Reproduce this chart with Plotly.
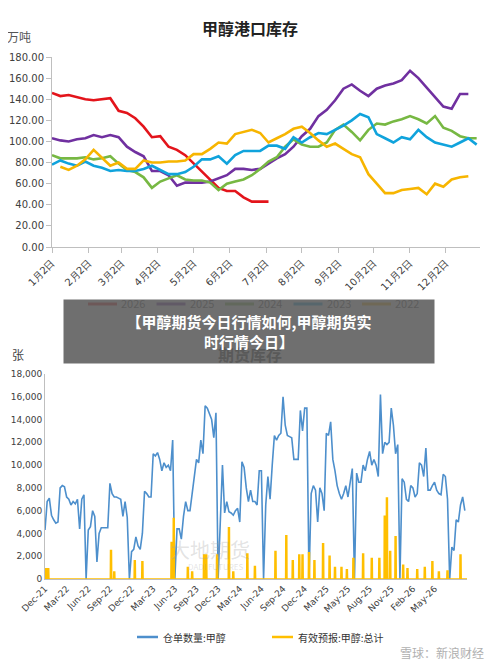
import plotly.graph_objects as go

# ---- top chart: 甲醇港口库存 (weekly, x = week index from 1月2日) ----
month_ticks = [0, 4.4, 8.4, 12.7, 17, 21.3, 25.7, 30, 34.4, 38.6, 42.9, 47.3]
month_labels = ["1月2日", "2月2日", "3月2日", "4月2日", "5月2日", "6月2日", "7月2日",
                "8月2日", "9月2日", "10月2日", "11月2日", "12月2日"]

y2026 = [146, 143, 144, 142, 140, 139, 140, 141, 129, 127, 122, 114, 104, 105, 95, 92,
         87, 79, 72, 63, 56, 53, 53, 47, 43, 43, 43]
y2025 = [103, 101, 100, 102, 103, 106, 104, 106, 104, 95, 90, 86, 72, 72, 68, 58, 61, 61,
         61, 62, 65, 68, 74, 74, 73, 74, 79, 84, 88, 95, 105, 112, 124, 130, 139, 150, 154,
         148, 143, 150, 153, 155, 158, 167, 160, 151, 142, 133, 131, 145, 145]
y2024 = [87, 84, 84, 84, 85, 83, 84, 86, 79, 73, 71, 66, 56, 62, 65, 68, 64, 63, 63, 61,
         54, 60, 62, 64, 68, 74, 81, 85, 95, 102, 97, 95, 95, 99, 111, 116, 109, 101, 111,
         117, 116, 119, 121, 124, 121, 117, 124, 113, 110, 105, 103, 103]
y2023 = [78, 82, 79, 77, 81, 77, 75, 72, 73, 72, 72, 74, 77, 73, 69, 69, 71, 76, 83, 83,
         86, 79, 87, 91, 91, 91, 96, 96, 93, 104, 99, 104, 108, 107, 111, 115, 120, 126,
         123, 107, 103, 99, 104, 102, 111, 104, 99, 97, 95, 99, 103, 97]
y2022 = [76, 73, 77, 83, 92, 84, 77, 80, 74, 74, 82, 80, 80, 81, 81, 82, 88, 88, 93, 99,
         98, 107, 109, 111, 108, 99, 103, 107, 112, 114, 108, 101, 95, 98, 93, 88, 85, 69,
         60, 51, 51, 54, 55, 56, 50, 60, 57, 64, 66, 67]

# ---- bottom chart: 期货库存 (x in tick-interval units, 10 pts per interval) ----
tick_labels_b = ["Dec-21", "Mar-22", "Jun-22", "Sep-22", "Dec-22", "Mar-23", "Jun-23",
                 "Sep-23", "Dec-23", "Mar-24", "Jun-24", "Sep-24", "Dec-24", "Mar-25",
                 "May-25", "Aug-25", "Nov-25", "Feb-26", "May-26"]
warrant = [
    4300, 6800, 7100, 5600, 5200, 4900, 5000, 8000, 8200, 8100,
    7200, 7000, 6500, 6800, 6600, 7000, 4400, 7000, 7400, 0,
    4300, 4600, 6000, 5500, 1500, 4000, 4500, 4500, 4500, 4500,
    8400, 7500, 7200, 7200, 7100, 7000, 5500, 6800, 5400, 0,
    2400, 2600, 3700, 2900, 2600, 4000, 7700, 7500, 7200, 7200,
    11000, 10800, 11100, 10500, 9500, 10200, 9800, 10000, 9500, 12200,
    0, 4400, 4400, 3500, 5500, 6800, 6000, 6000, 7500, 9000,
    10500, 10200, 12200, 11000, 15200, 15000, 14500, 14000, 12400, 14600,
    0, 5500, 10000, 5800, 6800, 5900, 5800, 5600, 6000, 6200,
    5000, 10300, 9800, 8000, 6800, 7800, 6800, 6800, 6500, 9500,
    9500, 0, 6500, 9000, 7000, 10000, 12600, 12200, 12600, 12800,
    16000, 13500, 12600, 12500, 12400, 10500, 10500, 10500, 14800, 13000,
    15000, 15000, 0, 7500, 8200, 7800, 5000, 8000, 7500, 6000,
    12800, 12600, 13800, 10500, 9500, 8200, 7500, 7000, 7500, 8200,
    7200, 8500, 9700, 0, 9300, 8500, 8500, 10000, 9500, 10500,
    11200, 10000, 10500, 10000, 9000, 16200, 11000, 12000, 11800, 12000,
    15000, 13500, 11000, 11800, 0, 8800, 8500, 7000, 6800, 8200,
    8000, 7200, 7500, 10200, 10000, 9000, 11500, 7800, 7800, 8200,
    8500, 7800, 7500, 7400, 9200, 9000, 7000, 0, 2800, 2500,
    5200, 5000, 6500, 7200, 6000,
]
# 有效预报 spikes: position (tick units) and height
spike_x = [0.05, 0.15, 3.05, 3.2, 4.15, 4.5, 5.85, 5.95, 6.6, 6.8, 7.35, 7.45, 7.95, 8.5,
           8.7, 9.35, 9.7, 10.65, 11.15, 11.45, 11.75, 11.9, 12.2, 12.45, 12.85, 13.15,
           13.4, 13.7, 13.95, 14.25, 14.7, 15.1, 15.45, 15.7, 15.8, 15.95, 16.2, 16.55,
           16.75, 17.2, 17.55, 17.9, 18.2, 18.6, 19.2]
spike_y = [900, 900, 2500, 600, 1600, 1500, 3200, 5300, 1000, 600, 2100, 2100, 2100, 4500,
           600, 2200, 1100, 2400, 3800, 1600, 2100, 2100, 2300, 1600, 3100, 2000, 1000,
           1000, 800, 1800, 2200, 1800, 1800, 5500, 7100, 2400, 3700, 1200, 900, 800, 1000,
           1500, 600, 700, 2100]

# the page body adds an 8px margin, so positions are shifted back by 8px
def px_x(p):
    return (p - 8) / 500

def px_y(p):
    return 1 - (p - 8) / 664

fig = go.Figure()

top_series = [("2026", y2026, 0, "#e3141b"), ("2025", y2025, 0, "#7030a0"),
              ("2024", y2024, 0, "#77b843"), ("2023", y2023, 0, "#10a3dc"),
              ("2022", y2022, 1, "#f7b500")]
for name, ys, start, color in top_series:
    fig.add_trace(go.Scatter(x=list(range(start, start + len(ys))), y=ys, mode="lines",
                             line=dict(color=color, width=2.6), name=name,
                             xaxis="x", yaxis="y", showlegend=False))

fig.add_trace(go.Scatter(x=[i / 10 for i in range(len(warrant))], y=warrant, mode="lines",
                         line=dict(color="#4d8fcc", width=1.6), xaxis="x2", yaxis="y2",
                         showlegend=False))
fx, fy = [0], [0]
for sx, sy in zip(spike_x, spike_y):
    fx += [sx - 0.03, sx - 0.02, sx + 0.02, sx + 0.03]
    fy += [0, sy, sy, 0]
fx.append(19.5)
fy.append(0)
fig.add_trace(go.Scatter(x=fx, y=fy, mode="lines", line=dict(color="#ffbf00", width=1.6),
                         xaxis="x2", yaxis="y2", showlegend=False))

tick_font = dict(family="DejaVu Sans", size=10, color="#404040")
small_font = dict(family="DejaVu Sans", size=9, color="#404040")
fig.update_layout(
    width=500, height=664, margin=dict(l=0, r=0, t=0, b=0),
    paper_bgcolor="white", plot_bgcolor="white",
    xaxis=dict(domain=[px_x(52), px_x(480)], range=[0, 51.4], tickvals=month_ticks,
               ticktext=month_labels, tickangle=-45, showgrid=False, zeroline=False,
               showline=True, linecolor="#bfbfbf", ticks="outside", tickcolor="#bfbfbf",
               tickfont=tick_font, automargin=False),
    yaxis=dict(domain=[px_y(247), px_y(57)], range=[0, 180], dtick=20, tickformat=".2f",
               showgrid=False, zeroline=False, showline=True, linecolor="#bfbfbf",
               ticks="outside", tickcolor="#bfbfbf", tickfont=tick_font, automargin=False),
    xaxis2=dict(domain=[px_x(45), px_x(467)], anchor="y2", range=[0, 19.5],
                tickvals=list(range(19)), ticktext=tick_labels_b, tickangle=-45,
                showgrid=False, zeroline=False, showline=True, linecolor="#bfbfbf",
                tickfont=small_font, automargin=False),
    yaxis2=dict(domain=[px_y(579), px_y(374)], anchor="x2", range=[0, 18000], dtick=2000,
                tickformat=",d", showgrid=False, zeroline=False, showline=True,
                linecolor="#bfbfbf", tickfont=small_font, automargin=False),
)

ann = [
    dict(x=px_x(250), y=px_y(28), text="<b>甲醇港口库存</b>", font=dict(size=16, color="#222")),
    dict(x=px_x(19), y=px_y(37), text="万吨", font=dict(size=12, color="#555")),
    dict(x=px_x(250), y=px_y(354), text="<b>期货库存</b>", font=dict(size=16, color="#222")),
    dict(x=px_x(18), y=px_y(354), text="张", font=dict(size=12, color="#444")),
    dict(x=px_x(210), y=px_y(549), text="大地期货", font=dict(size=20, color="rgba(160,160,160,0.3)")),
    dict(x=px_x(215), y=px_y(566), text="DADI FUTURES", font=dict(size=8, color="rgba(160,160,160,0.3)")),
]
shapes = []
for i, (name, _, _, color) in enumerate(top_series):
    x0 = 88 + i * 68.5
    shapes.append(dict(type="line", xref="paper", yref="paper", x0=px_x(x0), x1=px_x(x0 + 29),
                       y0=px_y(304), y1=px_y(304), line=dict(color=color, width=3)))
    ann.append(dict(x=px_x(x0 + 31), y=px_y(303), text=name, xanchor="left",
                    font=dict(size=11, color="#444")))
for label, color, x0 in [("仓单数量:甲醇", "#4d8fcc", 137),
                         ("有效预报:甲醇:总计", "#ffbf00", 272)]:
    shapes.append(dict(type="line", xref="paper", yref="paper", x0=px_x(x0), x1=px_x(x0 + 21),
                       y0=px_y(637), y1=px_y(637), line=dict(color=color, width=2.5)))
    ann.append(dict(x=px_x(x0 + 24), y=px_y(637), text=label, xanchor="left",
                    font=dict(size=10, color="#333")))
ann.append(dict(x=px_x(486), y=px_y(652), text="雪球：新浪财经", xanchor="right",
                font=dict(size=12, color="#b0b0b0")))
ann.append(dict(x=px_x(249), y=px_y(331.5), width=370, height=63,
                bgcolor="rgba(95,95,95,0.9)", borderpad=0,
                text="<b>【甲醇期货今日行情如何,甲醇期货实<br>时行情今日】</b>",
                font=dict(size=15, color="white"), align="center"))
for a in ann:
    a.setdefault("xref", "paper")
    a.setdefault("yref", "paper")
    a.setdefault("showarrow", False)
    a.setdefault("yanchor", "middle")
    a.setdefault("xanchor", "center")
    a["font"].setdefault("family", "Noto Sans CJK SC")
fig.update_layout(annotations=ann, shapes=shapes)

fig.write_html("out.html")
